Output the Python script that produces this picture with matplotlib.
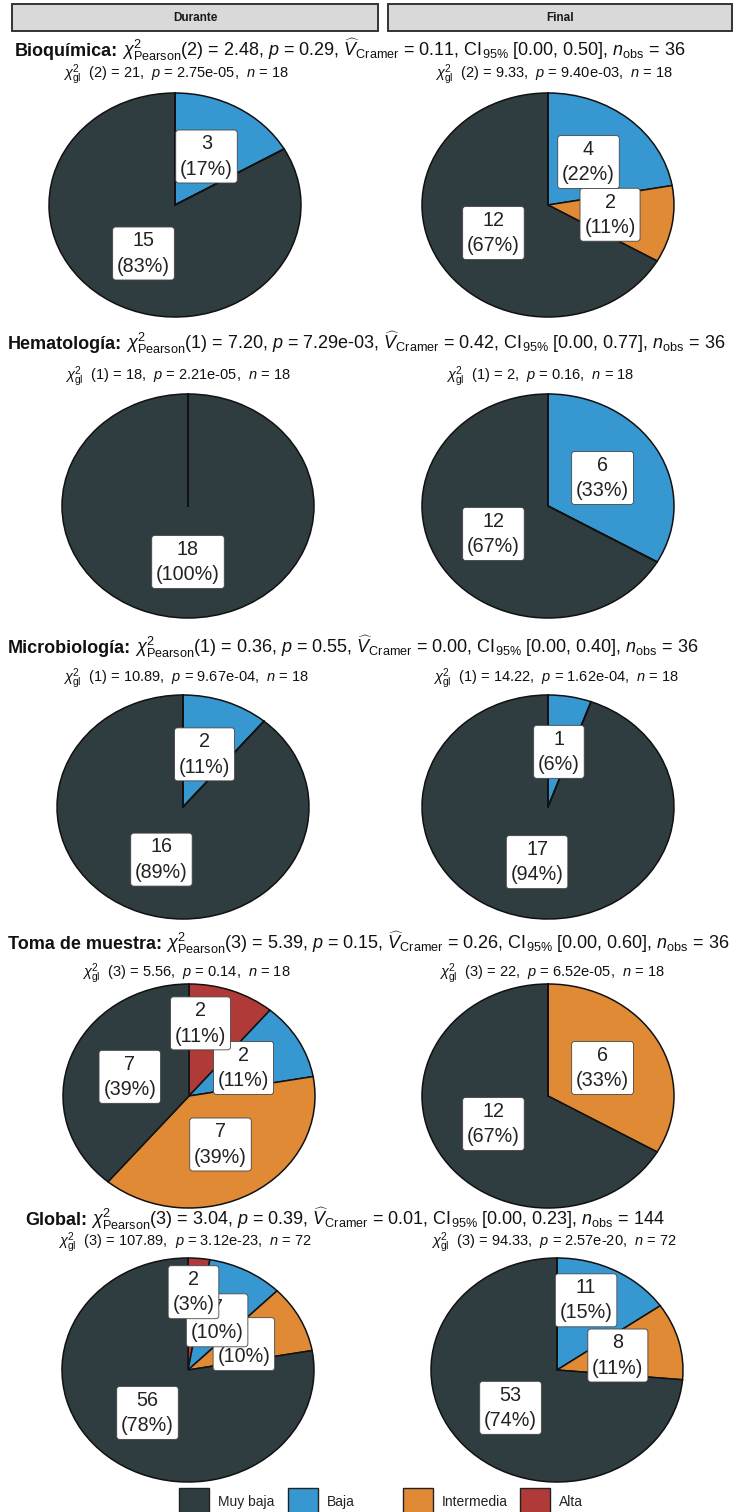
import numpy as np
import matplotlib
matplotlib.use("Agg")
import matplotlib.pyplot as plt
from matplotlib.patches import Rectangle

plt.rcParams['font.family'] = ['Liberation Sans', 'DejaVu Sans']
plt.rcParams['mathtext.fontset'] = 'custom'
plt.rcParams['mathtext.rm'] = 'Liberation Sans'
plt.rcParams['mathtext.it'] = 'Liberation Sans:italic'
plt.rcParams['mathtext.bf'] = 'Liberation Sans:bold'

# ---------------- data ----------------
areas = ["Bioquímica", "Hematología", "Microbiología", "Toma de muestra", "Global"]
periods = ["Durante", "Final"]
levels = ["Alta", "Baja", "Intermedia", "Muy baja"]
level_colors = ["#B03A38", "#3798D1", "#E08A36", "#2F3D40"]

durante_alta = [0, 0, 0, 2, 2]
durante_baja = [3, 0, 2, 2, 7]
durante_intermedia = [0, 0, 0, 7, 7]
durante_muy_baja = [15, 18, 16, 7, 56]

final_alta = [0, 0, 0, 0, 0]
final_baja = [4, 6, 1, 0, 11]
final_intermedia = [2, 0, 0, 6, 8]
final_muy_baja = [12, 12, 17, 12, 53]

# association test between periods (per area)
pearson_df = [2, 1, 1, 3, 3]
pearson_chi2 = ["2.48", "7.20", "0.36", "5.39", "3.04"]
pearson_p = ["0.29", "7.29e-03", "0.55", "0.15", "0.39"]
cramer_v = ["0.11", "0.42", "0.00", "0.26", "0.01"]
ci_low = ["0.00", "0.00", "0.00", "0.00", "0.00"]
ci_high = ["0.50", "0.77", "0.40", "0.60", "0.23"]
n_obs = [36, 36, 36, 36, 144]

# goodness-of-fit test within each pie
gof_df = [2, 1, 1, 3, 3]
durante_gof_chi2 = ["21", "18", "10.89", "5.56", "107.89"]
durante_gof_p = ["2.75e-05", "2.21e-05", "9.67e-04", "0.14", "3.12e-23"]
final_gof_chi2 = ["9.33", "2", "14.22", "22", "94.33"]
final_gof_p = ["9.40e-03", "0.16", "1.62e-04", "6.52e-05", "2.57e-20"]
group_n = [18, 18, 18, 18, 72]

# ---------------- layout (pixels) ----------------
W, H = 741, 1512
title_y = [56, 349, 653, 949, 1225]
title_x = [15, 8, 8, 8, 25]
sub_y = [78, 380, 682, 977, 1246]
pie_cy = [205, 506, 807, 1096, 1370]
pie_cx_durante = [175, 188, 183, 189, 188]
pie_cx_final = [548, 548, 548, 548, 557]
sub_cx_durante = [176, 178, 186, 186, 185]
sub_cx_final = [554, 540, 556, 552, 554]
RX, RY = 126, 112
# labels pushed away from crowded neighbours (row, column, level): (dx, dy) px
label_nudge = {(3, 0, 0): (-10, -20), (4, 0, 0): (0, -22), (4, 1, 1): (0, -20)}

fig = plt.figure(figsize=(W / 100, H / 100), dpi=100)
fig.patch.set_facecolor("white")
ax0 = fig.add_axes([0, 0, 1, 1])
ax0.set_xlim(0, W)
ax0.set_ylim(H, 0)
ax0.axis("off")
renderer = fig.canvas.get_renderer()

# facet strips
for (x0, x1), name in zip([(12, 378), (388, 732)], periods):
    ax0.add_patch(Rectangle((x0, 4), x1 - x0, 27, facecolor="#D9D9D9",
                            edgecolor="#333333", linewidth=1.4))
    ax0.text((x0 + x1) / 2, 18, name, ha="center", va="center",
             fontsize=8.5, fontweight="bold", color="#1a1a1a")

TITLE_FS = 13.0
SUB_FS = 10.5


def draw_pie(cx, cy, counts, row, col):
    m = 1.02
    ax = fig.add_axes([(cx - RX * m) / W, 1 - (cy + RY * m) / H,
                       2 * RX * m / W, 2 * RY * m / H])
    ax.pie(counts, colors=level_colors, startangle=90, counterclock=False,
           radius=1, wedgeprops=dict(edgecolor="#111111", linewidth=1.1))
    ax.set_aspect("auto")
    ax.set_xlim(-m, m)
    ax.set_ylim(-m, m)
    ax.axis("off")
    total = sum(counts)
    start = 0.0
    for i, c in enumerate(counts):
        frac = c / total
        if c == 0:
            # an empty category still leaves its boundary edge
            a = 2 * np.pi * start
            ax.plot([0, np.sin(a)], [0, np.cos(a)], color="#111111",
                    linewidth=1.2, zorder=5)
        else:
            mid = 2 * np.pi * (start + frac / 2)
            lx, ly = 0.5 * np.sin(mid), 0.5 * np.cos(mid)
            dx, dy = label_nudge.get((row, col, i), (0, 0))
            lx += dx / RX
            ly -= dy / RY
            ax.text(lx, ly, f"{c}\n({round(100 * frac)}%)", ha="center",
                    va="center", fontsize=14.2, color="#222222",
                    linespacing=1.42, zorder=10 + (4 - i),
                    bbox=dict(boxstyle="round,pad=0.22,rounding_size=0.15",
                              facecolor="white", edgecolor="#444444",
                              linewidth=0.6))
        start += frac


for r, area in enumerate(areas):
    # row title
    t = ax0.text(title_x[r], title_y[r], area + ":", fontsize=TITLE_FS,
                 fontweight="bold", ha="left", va="baseline", color="#111111")
    bb = t.get_window_extent(renderer)
    stats = (r"$\chi^2_{\mathrm{Pearson}}$" + f"({pearson_df[r]}) = {pearson_chi2[r]}, "
             + r"$\mathit{p}$" + f" = {pearson_p[r]}, "
             + r"$\widehat{\mathit{V}}_{\mathrm{Cramer}}$" + f" = {cramer_v[r]}, "
             + r"CI$_{95\%}$" + f" [{ci_low[r]}, {ci_high[r]}], "
             + r"$\mathit{n}_{\mathrm{obs}}$" + f" = {n_obs[r]}")
    ax0.text(title_x[r] + bb.width + 4, title_y[r], stats, fontsize=TITLE_FS,
             ha="left", va="baseline", color="#111111")

    durante = [durante_alta[r], durante_baja[r], durante_intermedia[r], durante_muy_baja[r]]
    final = [final_alta[r], final_baja[r], final_intermedia[r], final_muy_baja[r]]
    for col, (counts, cx, scx, chi, pv) in enumerate([
            (durante, pie_cx_durante[r], sub_cx_durante[r], durante_gof_chi2[r], durante_gof_p[r]),
            (final, pie_cx_final[r], sub_cx_final[r], final_gof_chi2[r], final_gof_p[r])]):
        sub = (r"$\chi^2_{\mathrm{gl}}$" + f"  ({gof_df[r]}) = {chi},  "
               + r"$\mathit{p}$" + f" = {pv},  " + r"$\mathit{n}$" + f" = {group_n[r]}")
        ax0.text(scx, sub_y[r], sub, fontsize=SUB_FS, ha="center",
                 va="baseline", color="#111111")
        draw_pie(cx, pie_cy[r], counts, r, col)

# legend
legend_order = [3, 1, 2, 0]
patch_x = [179, 288, 403, 520]
text_x = [218, 327, 442, 559]
for k, li in enumerate(legend_order):
    ax0.add_patch(Rectangle((patch_x[k], 1488), 30, 26, facecolor=level_colors[li],
                            edgecolor="#222222", linewidth=1.0, clip_on=False))
    ax0.text(text_x[k], 1502, levels[li], fontsize=10, ha="left",
             va="center", color="#222222")

fig.savefig("out.png", dpi=100, facecolor="white")
